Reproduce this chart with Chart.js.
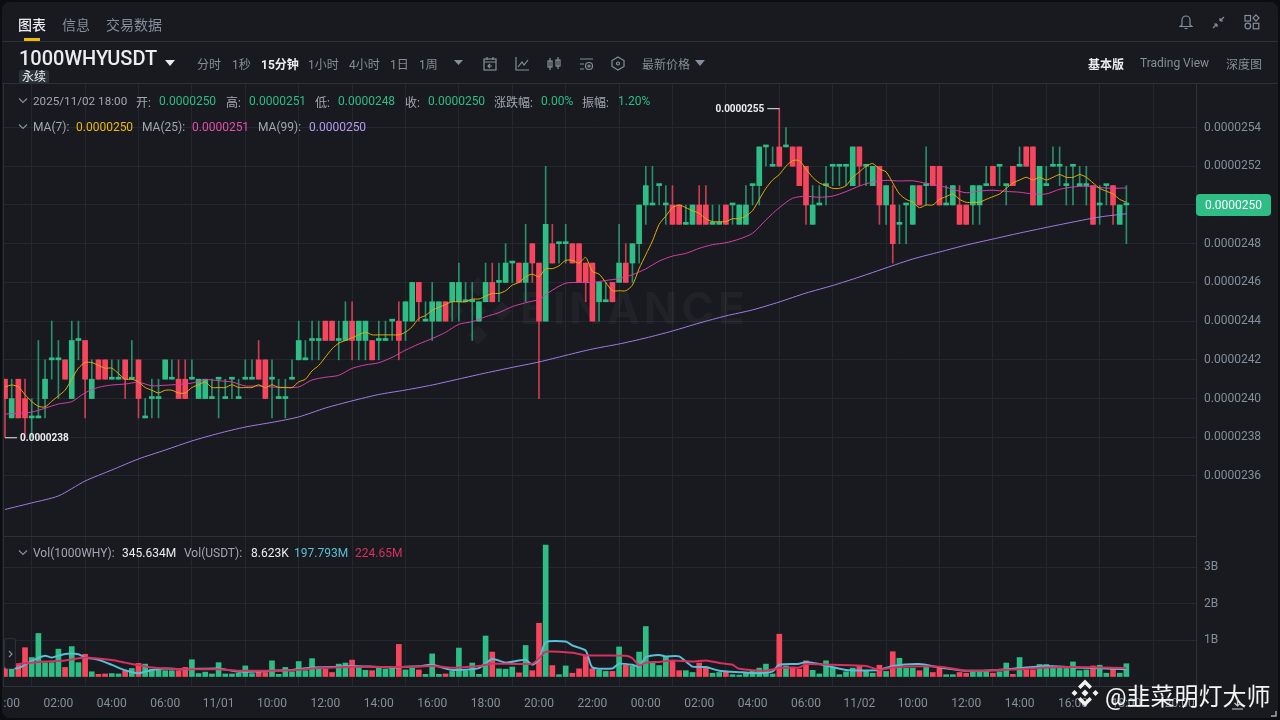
<!DOCTYPE html>
<html>

<head>
    <meta charset="utf-8">
    <title>1000WHYUSDT</title>
    <script src="https://cdn.jsdelivr.net/npm/chart.js@4/dist/chart.umd.min.js"></script>
    <style>
        html, body { margin: 0; height: 100%; background: #0b0e11; overflow: hidden; }
        #card { position: absolute; left: 2px; top: 2px; width: 1276px; height: 716px; background: #181a20; border-radius: 8px; }
        #myChart { position: absolute; left: 0; top: 0; clip-path: inset(0 0 0 3px); }
        #overlay { position: absolute; left: 0; top: 0; width: 1280px; height: 720px; pointer-events: none;
            font-family: Roboto, "Noto Sans CJK SC", sans-serif; }
        #overlay span { position: absolute; white-space: nowrap; transform: translateY(-50%); }
        #overlay svg { position: absolute; }
        .hline { position: absolute; height: 1px; background: #2b3139; }
    </style>
</head>

<body>
    <div id="card"></div>
    <canvas id="myChart" width="1280" height="720"></canvas>
    <div id="overlay"></div>
    <script>
        // prices are in units of 0.0000001
        const opens = [
            241, 239, 241, 240, 239, 239, 240, 242, 242, 242, 240, 243, 243, 240, 242, 242, 241, 241, 242, 241,
            242, 239, 240, 240, 241, 241, 241, 241, 241, 240, 240, 240, 241, 240, 241, 240, 241, 241, 242, 242,
            241, 240, 240, 241, 242, 242, 243, 243, 244, 244, 243, 243, 244, 243, 243, 243, 243, 243, 244, 244,
            244, 244, 246, 244, 244, 244, 245, 245, 245, 245, 245, 244, 245, 246, 246, 246, 247, 247, 246, 248,
            247, 244, 248, 248, 248, 248, 248, 247, 247, 245, 245, 246, 246, 247, 247, 248, 250, 250, 251, 250,
            250, 250, 249, 249, 250, 250, 249, 249, 250, 250, 249, 249, 251, 251, 253, 252, 253, 253, 253, 253,
            252, 249, 250, 251, 252, 252, 252, 251, 253, 252, 251, 252, 250, 250, 249, 250, 249, 251, 251, 252,
            252, 250, 250, 250, 250, 250, 250, 251, 252, 252, 251, 252, 252, 253, 253, 250, 251, 252, 252, 251,
            252, 251, 251, 251, 250, 251, 251, 249, 250
        ];
        const highs = [
            241, 241, 241, 241, 240, 243, 242, 244, 243, 242, 244, 244, 243, 242, 242, 242, 242, 242, 242, 243,
            242, 240, 241, 241, 242, 242, 242, 242, 242, 241, 241, 241, 241, 241, 241, 241, 242, 242, 243, 242,
            242, 241, 241, 242, 244, 243, 244, 244, 244, 244, 244, 245, 245, 244, 244, 243, 244, 244, 244, 245,
            245, 246, 246, 245, 246, 245, 245, 246, 247, 246, 246, 245, 247, 247, 247, 248, 247, 247, 249, 248,
            247, 252, 249, 248, 249, 248, 248, 247, 247, 246, 246, 246, 249, 248, 248, 250, 252, 252, 251, 251,
            251, 250, 250, 250, 251, 251, 250, 250, 250, 250, 250, 251, 251, 253, 253, 253, 255, 254, 253, 253,
            252, 251, 251, 252, 252, 252, 252, 253, 253, 252, 252, 252, 251, 251, 250, 250, 251, 251, 253, 252,
            252, 251, 251, 251, 250, 251, 251, 252, 252, 252, 251, 252, 253, 253, 253, 252, 252, 253, 253, 252,
            252, 252, 252, 251, 251, 251, 251, 250, 251
        ];
        const lows = [
            238, 239, 239, 238, 238, 239, 239, 241, 240, 241, 240, 242, 239, 240, 241, 241, 241, 241, 240, 241,
            239, 239, 239, 239, 241, 241, 240, 240, 241, 240, 240, 240, 239, 240, 240, 240, 241, 241, 241, 240,
            239, 240, 239, 241, 242, 242, 242, 242, 243, 243, 242, 243, 242, 242, 242, 242, 242, 243, 243, 242,
            243, 244, 244, 244, 243, 244, 244, 244, 244, 245, 243, 244, 245, 245, 245, 246, 246, 246, 245, 246,
            240, 244, 247, 247, 247, 247, 246, 245, 244, 244, 245, 245, 246, 246, 246, 247, 249, 250, 250, 249,
            249, 249, 249, 249, 249, 249, 249, 249, 249, 249, 249, 249, 250, 250, 252, 252, 252, 253, 252, 251,
            249, 249, 250, 250, 251, 251, 251, 251, 251, 251, 251, 249, 249, 247, 248, 248, 249, 250, 250, 251,
            250, 250, 250, 249, 249, 249, 249, 251, 251, 251, 250, 251, 252, 252, 250, 250, 251, 252, 251, 250,
            250, 251, 250, 249, 249, 250, 249, 249, 248
        ];
        const closes = [
            240, 240, 239, 239, 239, 239, 241, 242, 242, 241, 243, 243, 241, 241, 241, 241, 241, 241, 241, 241,
            240, 239, 240, 240, 242, 241, 240, 240, 241, 241, 241, 240, 241, 240, 241, 240, 241, 241, 241, 240,
            241, 240, 240, 241, 243, 242, 243, 243, 243, 243, 243, 244, 243, 244, 244, 242, 243, 243, 244, 243,
            245, 246, 245, 244, 245, 245, 244, 246, 246, 245, 245, 245, 246, 245, 246, 247, 247, 246, 247, 247,
            244, 249, 247, 248, 248, 247, 246, 246, 244, 246, 245, 245, 247, 246, 248, 250, 251, 250, 251, 250,
            249, 249, 249, 250, 249, 249, 249, 249, 249, 250, 250, 250, 251, 253, 253, 252, 252, 253, 252, 251,
            250, 250, 250, 251, 252, 252, 252, 253, 252, 252, 252, 250, 251, 248, 249, 250, 251, 250, 251, 251,
            250, 250, 251, 249, 249, 251, 251, 251, 251, 252, 251, 251, 252, 252, 250, 252, 251, 252, 252, 251,
            252, 251, 251, 249, 250, 251, 250, 250, 250
        ];
        // volume in billions
        const volumes = [
            0.66, 0.23, 0.34, 0.79, 0.52, 1.18, 0.38, 0.38, 0.75, 0.25, 0.82, 0.38, 0.61, 0.13, 0.06, 0.07, 0.08, 0.07, 0.16, 0.22,
            0.36, 0.34, 0.20, 0.18, 0.16, 0.16, 0.16, 0.25, 0.46, 0.08, 0.12, 0.07, 0.38, 0.07, 0.07, 0.09, 0.29, 0.08, 0.16, 0.11,
            0.43, 0.06, 0.25, 0.13, 0.41, 0.16, 0.49, 0.25, 0.20, 0.11, 0.34, 0.37, 0.45, 0.25, 0.17, 0.16, 0.26, 0.20, 0.25, 0.88,
            0.18, 0.23, 0.18, 0.06, 0.62, 0.06, 0.07, 0.14, 0.78, 0.16, 0.37, 0.06, 1.11, 0.67, 0.21, 0.20, 0.26, 0.10, 0.85, 0.16,
            1.46, 3.60, 0.30, 0.05, 0.29, 0.09, 0.21, 0.55, 0.21, 0.18, 0.14, 0.14, 0.81, 0.32, 0.29, 0.67, 1.37, 0.37, 0.30, 0.55,
            0.43, 0.16, 0.16, 0.11, 0.37, 0.23, 0.09, 0.11, 0.14, 0.05, 0.04, 0.09, 0.14, 0.23, 0.34, 0.07, 1.16, 0.29, 0.26, 0.20,
            0.43, 0.17, 0.07, 0.43, 0.25, 0.05, 0.13, 0.23, 0.29, 0.16, 0.09, 0.31, 0.14, 0.68, 0.50, 0.23, 0.23, 0.16, 0.25, 0.11,
            0.26, 0.05, 0.05, 0.11, 0.09, 0.16, 0.16, 0.14, 0.09, 0.13, 0.37, 0.06, 0.52, 0.18, 0.18, 0.33, 0.33, 0.23, 0.25, 0.22,
            0.40, 0.16, 0.18, 0.29, 0.31, 0.09, 0.22, 0.09, 0.35
        ];
        const ma7 = [
            240.6, 240.7, 240.6, 240.2, 239.85, 239.6, 239.57, 239.86, 240.14, 240.43, 241.0, 241.57, 241.86, 241.86, 241.71, 241.57, 241.57, 241.29, 241.0, 241.0,
            240.86, 240.57, 240.43, 240.29, 240.43, 240.43, 240.29, 240.29, 240.57, 240.71, 240.86, 240.57, 240.57, 240.57, 240.71, 240.57, 240.57, 240.57, 240.71, 240.57,
            240.71, 240.57, 240.57, 240.57, 240.86, 241.0, 241.43, 241.71, 242.14, 242.57, 242.86, 243.0, 243.14, 243.29, 243.43, 243.29, 243.29, 243.29, 243.29, 243.29,
            243.43, 243.71, 244.14, 244.29, 244.57, 244.71, 244.86, 245.0, 245.0, 245.0, 245.14, 245.14, 245.29, 245.43, 245.43, 245.57, 245.86, 246.0, 246.29, 246.43,
            246.29, 246.71, 246.71, 246.86, 247.14, 247.14, 247.0, 247.29, 246.57, 246.43, 246.0, 245.57, 245.57, 245.57, 245.86, 246.71, 247.43, 248.14, 249.0, 249.43,
            249.86, 250.0, 249.86, 249.71, 249.57, 249.29, 249.14, 249.14, 249.14, 249.29, 249.29, 249.43, 249.71, 250.29, 250.86, 251.29, 251.57, 252.0, 252.29, 252.29,
            251.86, 251.43, 251.14, 251.0, 250.86, 250.86, 251.0, 251.43, 251.71, 252.0, 252.14, 251.86, 251.71, 251.14, 250.57, 250.29, 250.14, 249.86, 250.0, 250.0,
            250.29, 250.43, 250.57, 250.29, 250.14, 250.14, 250.14, 250.29, 250.43, 250.57, 250.86, 251.14, 251.29, 251.43, 251.29, 251.43, 251.29, 251.43, 251.57, 251.43,
            251.43, 251.57, 251.43, 251.14, 250.86, 250.71, 250.57, 250.29, 250.14
        ];
        // read every 2nd candle
        const ma25 = [
            239.2, 239.24, 239.3, 239.5, 239.72, 239.84, 240.3, 240.58, 240.7, 240.75, 240.84, 240.66, 240.69, 240.73, 240.8, 240.98, 240.92, 240.86, 240.65, 240.65,
            240.6, 240.58, 240.6, 240.96, 241.1, 241.2, 241.56, 241.74, 241.85, 242.13, 242.5, 242.82, 243.1, 243.42, 243.84, 243.97, 244.23, 244.44, 244.75, 244.95,
            245.13, 245.6, 245.96, 246.0, 246.0, 246.1, 246.2, 246.4, 246.7, 247.1, 247.36, 247.5, 247.76, 247.95, 248.05, 248.24, 248.54, 249.23, 249.86, 250.35,
            250.45, 250.4, 250.46, 250.69, 250.98, 251.19, 251.27, 251.24, 251.25, 251.12, 251.0, 250.81, 250.63, 250.72, 250.76, 250.7, 250.66, 250.57, 250.57, 250.81,
            250.93, 250.97, 250.9, 250.86, 250.88
        ];
        // read every 4th candle
        const ma99 = [
            234.27, 234.61, 234.97, 235.74, 236.31, 236.88, 237.34, 237.81, 238.2, 238.53, 238.77, 239.05, 239.51, 239.88, 240.21, 240.44, 240.7, 241.01, 241.32, 241.61,
            241.89, 242.23, 242.56, 242.82, 243.13, 243.49, 243.9, 244.27, 244.58, 244.99, 245.45, 245.84, 246.28, 246.75, 247.21, 247.57, 247.93, 248.24, 248.55, 248.84,
            249.12, 249.38, 249.55
        ];
        const volMaBlueIdx = [
            0, 2, 4, 6, 7, 9, 11, 12, 14, 16, 18, 20, 22, 24, 27, 29, 32, 35, 38, 40, 43, 46, 49, 52, 56, 59,
            60, 62, 64, 67, 71, 73, 75, 78, 79, 80, 81, 84, 85, 87, 88, 91, 92, 94, 95, 96, 98, 99, 101, 103, 105, 107, 110, 113, 115, 116, 119,
            120, 122, 126, 131, 133, 137, 140, 144, 148, 152, 156, 160, 168
        ];
        const volMaBlue = [
            0.25, 0.23, 0.43, 0.57, 0.52, 0.62, 0.61, 0.52, 0.46, 0.32, 0.17, 0.09, 0.18, 0.22, 0.20, 0.21, 0.22, 0.13, 0.14, 0.16, 0.18, 0.25, 0.26, 0.29, 0.26, 0.25,
            0.27, 0.28, 0.32, 0.18, 0.23, 0.48, 0.38, 0.46, 0.32, 0.46, 0.94, 0.96, 0.85, 0.71, 0.25, 0.22, 0.35, 0.32, 0.27, 0.53, 0.59, 0.55, 0.55, 0.27, 0.26, 0.16, 0.12, 0.09, 0.14, 0.32, 0.35,
            0.40, 0.34, 0.18, 0.18, 0.29, 0.34, 0.25, 0.16, 0.17, 0.23, 0.29, 0.25, 0.20
        ];
        const volMaRedIdx = [
            0, 2, 4, 6, 9, 12, 16, 18, 20, 22, 24, 27, 32, 35, 40, 43, 46, 49, 52, 56, 59,
            60, 64, 67, 71, 73, 79, 80, 81, 85, 87, 93, 94, 95, 96, 98, 100, 103, 105, 107, 109, 110, 114, 116, 119,
            120, 124, 129, 131, 133, 140, 144, 148, 152, 156, 160, 168
        ];
        const volMaRed = [
            0.29, 0.34, 0.38, 0.41, 0.44, 0.52, 0.45, 0.38, 0.31, 0.25, 0.22, 0.20, 0.20, 0.16, 0.16, 0.17, 0.22, 0.25, 0.27, 0.26, 0.26,
            0.26, 0.29, 0.24, 0.29, 0.35, 0.35, 0.50, 0.68, 0.65, 0.58, 0.57, 0.50, 0.30, 0.38, 0.40, 0.44, 0.41, 0.44, 0.37, 0.32, 0.21, 0.16, 0.23, 0.25,
            0.34, 0.32, 0.29, 0.18, 0.25, 0.27, 0.16, 0.17, 0.20, 0.25, 0.26, 0.23
        ];
        const timeLabels = ['00:00', '02:00', '04:00', '06:00', '11/01', '10:00', '12:00', '14:00', '16:00', '18:00', '20:00', '22:00',
            '00:00', '02:00', '04:00', '06:00', '11/02', '10:00', '12:00', '14:00', '16:00', '18:00', '20:00'];
        const priceTicks = [236, 238, 240, 242, 244, 246, 248, 250, 252, 254];
        const volTicks = [1, 2, 3];

        const UP = '#2ebd85', DOWN = '#f6465d';
        const UP_WICK = 'rgba(46,189,133,0.72)', DOWN_WICK = 'rgba(246,70,93,0.8)';
        const candleColors = closes.map((c, i) => c >= opens[i] ? UP : DOWN);
        const wickColors = closes.map((c, i) => c >= opens[i] ? UP_WICK : DOWN_WICK);
        const priceLabel = v => '0.0000' + v;

        const gridColor = '#23272e';
        const axisColor = '#2b3139';
        const tickColor = '#848e9c';

        // watermark behind the candles, high/low marks and the last price tag on top
        const decorations = {
            id: 'decorations',
            beforeDatasetsDraw(chart) {
                const ctx = chart.ctx;
                ctx.save();
                ctx.fillStyle = 'rgba(255,255,255,0.035)';
                ctx.font = 'bold 44px Inter';
                ctx.letterSpacing = '4px';
                ctx.textBaseline = 'middle';
                ctx.fillText('BINANCE', 520, 311);
                ctx.letterSpacing = '0px';
                ctx.translate(478, 311);
                ctx.rotate(Math.PI / 4);
                ctx.fillRect(-6, -6, 12, 12);
                ctx.fillRect(-24, -24, 14, 14);
                ctx.fillRect(10, 10, 14, 14);
                ctx.fillRect(-24, 10, 14, 14);
                ctx.fillRect(10, -24, 14, 14);
                ctx.restore();
            },
            afterDraw(chart) {
                const ctx = chart.ctx, x = chart.scales.x, y = chart.scales.y;
                const lastClose = closes[closes.length - 1];
                const hi = Math.max(...highs), lo = Math.min(...lows);
                ctx.save();
                ctx.font = 'bold 10px Roboto';
                ctx.fillStyle = '#eaecef';
                ctx.strokeStyle = '#eaecef';
                ctx.textBaseline = 'middle';
                const hiX = x.getPixelForValue(highs.indexOf(hi));
                const hiY = y.getPixelForValue(hi);
                ctx.textAlign = 'right';
                ctx.fillText(priceLabel(hi), hiX - 15, hiY + 1);
                ctx.beginPath(); ctx.moveTo(hiX - 12, hiY + 0.5); ctx.lineTo(hiX, hiY + 0.5); ctx.stroke();
                const loX = x.getPixelForValue(lows.indexOf(lo));
                const loY = y.getPixelForValue(lo);
                ctx.textAlign = 'left';
                ctx.fillText(priceLabel(lo), loX + 15, loY + 1);
                ctx.beginPath(); ctx.moveTo(loX, loY + 0.5); ctx.lineTo(loX + 12, loY + 0.5); ctx.stroke();

                const tagY = y.getPixelForValue(lastClose);
                ctx.fillStyle = UP;
                ctx.beginPath();
                ctx.roundRect(1196, tagY - 11, 75, 22, 4);
                ctx.fill();
                ctx.fillStyle = '#ffffff';
                ctx.font = '12px Roboto';
                ctx.textAlign = 'center';
                ctx.fillText(priceLabel(lastClose), 1233.5, tagY + 1);
                ctx.restore();
            }
        };

        const fixYWidth = scale => { scale.width = 84; };

        const config = {
            type: 'bar',
            data: {
                datasets: [
                    { type: 'line', data: ma7.map((v, i) => ({ x: i, y: v })), borderColor: '#e5ac0a', borderWidth: 1, pointRadius: 0, tension: 0.25, yAxisID: 'y', order: 0 },
                    { type: 'line', data: ma25.map((v, i) => ({ x: i * 2, y: v })), borderColor: '#d63fa6', borderWidth: 1, pointRadius: 0, tension: 0.25, yAxisID: 'y', order: 0 },
                    { type: 'line', data: ma99.map((v, i) => ({ x: i * 4, y: v })), borderColor: '#a57be4', borderWidth: 1, pointRadius: 0, tension: 0.25, yAxisID: 'y', order: 0 },
                    { type: 'line', data: volMaRed.map((v, i) => ({ x: volMaRedIdx[i], y: v })), borderColor: '#d8305f', borderWidth: 2, pointRadius: 0, tension: 0.2, yAxisID: 'yVol', order: 0 },
                    { type: 'line', data: volMaBlue.map((v, i) => ({ x: volMaBlueIdx[i], y: v })), borderColor: '#58bfd6', borderWidth: 2, pointRadius: 0, tension: 0.2, yAxisID: 'yVol', order: 0 },
                    // body
                    { data: opens.map((o, i) => ({ x: i, y: [o, closes[i]] })), backgroundColor: candleColors, barThickness: 5, minBarLength: 2, grouped: false, yAxisID: 'y', order: 1 },
                    // wick
                    { data: highs.map((h, i) => ({ x: i, y: [lows[i], h] })), backgroundColor: wickColors, barThickness: 1, grouped: false, yAxisID: 'y', order: 2 },
                    // volume
                    { data: volumes.map((v, i) => ({ x: i, y: v })), backgroundColor: candleColors, barThickness: 5, grouped: false, yAxisID: 'yVol', order: 1 }
                ]
            },
            options: {
                responsive: false,
                animation: false,
                layout: { padding: { left: 3, top: 84, right: 0, bottom: 0 } },
                plugins: { legend: { display: false }, tooltip: { enabled: false } },
                scales: {
                    x: {
                        type: 'linear',
                        min: -0.3,
                        max: 178.43,
                        offset: false,
                        afterBuildTicks(scale) { scale.ticks = timeLabels.map((t, k) => ({ value: k * 8 })); },
                        afterFit(scale) { scale.paddingLeft = 0; scale.paddingRight = 0; scale.height = 34; },
                        ticks: {
                            callback: v => timeLabels[v / 8],
                            autoSkip: false, maxRotation: 0, color: tickColor, padding: 11,
                            font: { family: 'Roboto', size: 12 }
                        },
                        grid: { color: gridColor, drawTicks: false },
                        border: { color: axisColor }
                    },
                    y: {
                        position: 'right',
                        stack: 'panes',
                        stackWeight: 452,
                        min: 232.9,
                        max: 256.25,
                        afterBuildTicks(scale) { scale.ticks = priceTicks.map(v => ({ value: v })); },
                        afterFit: fixYWidth,
                        ticks: { callback: priceLabel, color: tickColor, padding: 8, font: { family: 'Roboto', size: 12 } },
                        grid: { color: gridColor, drawTicks: false },
                        border: { color: axisColor }
                    },
                    yVol: {
                        position: 'right',
                        stack: 'panes',
                        stackWeight: 150,
                        min: -0.26,
                        max: 3.85,
                        afterBuildTicks(scale) { scale.ticks = volTicks.map(v => ({ value: v })); },
                        afterFit: fixYWidth,
                        ticks: { callback: v => v + 'B', color: tickColor, padding: 8, font: { family: 'Roboto', size: 12 } },
                        grid: { color: gridColor, drawTicks: false },
                        border: { color: axisColor }
                    }
                }
            },
            plugins: [decorations]
        };

        new Chart(document.getElementById('myChart'), config);

        // page furniture around the chart
        const overlay = document.getElementById('overlay');
        function addText(x, y, text, color, size, weight) {
            const s = document.createElement('span');
            s.textContent = text;
            s.style.left = x + 'px';
            s.style.top = y + 'px';
            s.style.color = color;
            s.style.fontSize = (size || 12) + 'px';
            if (weight) s.style.fontWeight = weight;
            overlay.appendChild(s);
            return s;
        }
        function addLine(x, y, w, color) {
            const d = document.createElement('div');
            d.className = 'hline';
            d.style.left = x + 'px';
            d.style.top = y + 'px';
            d.style.width = w + 'px';
            if (color) d.style.background = color;
            overlay.appendChild(d);
            return d;
        }
        function addSvg(x, y, w, h, body) {
            overlay.insertAdjacentHTML('beforeend',
                `<svg style="left:${x}px;top:${y}px" width="${w}" height="${h}" viewBox="0 0 ${w} ${h}" fill="none" stroke="#848e9c" stroke-width="1.2">${body}</svg>`);
        }
        const GREY = '#848e9c', LEGEND = '#a1a7b1', GREEN = '#2ebd85';

        addLine(2, 41, 1276);
        addLine(2, 83, 1276);
        addLine(3, 536, 1193);
        const leftEdge = addLine(3, 84, 1);
        leftEdge.style.height = '602px';
        addLine(24, 38, 16, '#f0b90b').style.height = '3px';

        addText(18, 24, '图表', '#eaecef', 14, 500);
        addText(62, 24, '信息', GREY, 14);
        addText(106, 24, '交易数据', GREY, 14);

        addText(19, 58, '1000WHYUSDT', '#eaecef', 20, 500);
        addSvg(165, 60, 10, 7, '<path d="M0 0H10L5 6Z" fill="#eaecef" stroke="none"/>');
        const badge = addText(19, 77, '永续', '#eaecef', 12);
        badge.style.background = '#2b3139';
        badge.style.padding = '0 3px';
        badge.style.borderRadius = '2px';
        badge.style.lineHeight = '14px';

        addText(197, 63, '分时', GREY);
        addText(232, 63, '1秒', GREY);
        addText(261, 63, '15分钟', '#eaecef', 12, 700);
        addText(308, 63, '1小时', GREY);
        addText(349, 63, '4小时', GREY);
        addText(390, 63, '1日', GREY);
        addText(419, 63, '1周', GREY);
        addSvg(454, 60, 9, 6, '<path d="M0 0H9L4.5 5Z" fill="#848e9c" stroke="none"/>');
        addSvg(483, 56, 14, 15, '<rect x="1" y="3" width="12" height="11"/><path d="M1 6H13M4 1V4M10 1V4M9 10H5M7 8L5 10L7 12"/>');
        addSvg(515, 56, 14, 15, '<path d="M1 1V14H14M3 11L7 6L9 9L13 4"/>');
        addSvg(547, 56, 14, 15, '<rect x="1" y="5" width="4" height="6"/><rect x="9" y="4" width="4" height="6"/><path d="M3 2V14M11 1V13"/>');
        addSvg(579, 56, 15, 15, '<path d="M1 3H14M1 8H5M1 13H5"/><circle cx="10" cy="10" r="3.5"/><circle cx="10" cy="10" r="1"/>');
        addSvg(611, 56, 14, 15, '<path d="M7 1L13 4.5V10.5L7 14L1 10.5V4.5Z"/><circle cx="7" cy="7.5" r="1.5"/>');
        addText(642, 63, '最新价格', GREY);
        addSvg(695, 60, 10, 6, '<path d="M0 0H10L5 6Z" fill="#848e9c" stroke="none"/>');
        addText(1088, 63, '基本版', '#eaecef', 12, 700);
        addText(1140, 63, 'Trading View', GREY);
        addText(1226, 63, '深度图', GREY);

        addSvg(1179, 14, 14, 16, '<path d="M3 11V6A4 4 0 0 1 11 6V11L13 12.5H1ZM5.5 14.5H8.5"/>');
        addSvg(1211, 15, 15, 15, '<path d="M9 6L13 2M9 6V3M9 6H12M6 9L2 13M6 9V12M6 9H3"/>');
        addSvg(1244, 14, 16, 16, '<rect x="1" y="1.5" width="5.5" height="5.5"/><path d="M12 0.8L15 4L12 7.2L9 4Z"/><circle cx="3.8" cy="12" r="2.8"/><rect x="9.3" y="9.3" width="5.5" height="5.5"/>');

        const chevron = (x, y) => addSvg(x, y, 10, 6, '<path d="M1 0.5L5 4.5L9 0.5"/>');
        chevron(18, 98);
        addText(33, 101, '2025/11/02 18:00', LEGEND, 11.7);
        addText(136, 101, '开:', LEGEND);
        addText(159, 101, '0.0000250', GREEN);
        addText(226, 101, '高:', LEGEND);
        addText(249, 101, '0.0000251', GREEN);
        addText(315, 101, '低:', LEGEND);
        addText(338, 101, '0.0000248', GREEN);
        addText(405, 101, '收:', LEGEND);
        addText(428, 101, '0.0000250', GREEN);
        addText(494, 101, '涨跌幅:', LEGEND);
        addText(541, 101, '0.00%', GREEN);
        addText(582, 101, '振幅:', LEGEND);
        addText(618, 101, '1.20%', GREEN);

        chevron(18, 124);
        addText(33, 127, 'MA(7):', LEGEND);
        addText(76, 127, '0.0000250', '#f0b90b');
        addText(142, 127, 'MA(25):', LEGEND);
        addText(192, 127, '0.0000251', '#e84caf');
        addText(258, 127, 'MA(99):', LEGEND);
        addText(309, 127, '0.0000250', '#b79af0');

        chevron(18, 550);
        addText(33, 553, 'Vol(1000WHY):', LEGEND);
        addText(122, 553, '345.634M', '#eaecef');
        addText(184, 553, 'Vol(USDT):', LEGEND);
        addText(251, 553, '8.623K', '#eaecef');
        addText(294, 553, '197.793M', '#58bfd6');
        addText(355, 553, '224.65M', '#d8305f');

        // collapse handle on the left edge
        addSvg(4, 638, 12, 31, '<rect x="0.5" y="0.5" width="11" height="30" rx="3" stroke="#2b3139" fill="#181a20"/><path d="M5 13L8 16L5 19"/>');

        // repost watermark
        overlay.insertAdjacentHTML('beforeend',
            '<svg style="left:1071px;top:679px" width="28" height="28" viewBox="-14 -14 28 28" fill="#f2f2f2"><path d="M0 -13.5L7 -6.5L4.5 -4L0 -8.5L-4.5 -4L-7 -6.5Z"/><path d="M0 13.5L7 6.5L4.5 4L0 8.5L-4.5 4L-7 6.5Z"/><path d="M-13.5 0L-10.5 -3L-7.5 0L-10.5 3Z"/><path d="M13.5 0L10.5 -3L7.5 0L10.5 3Z"/><path d="M0 -3.5L3.5 0L0 3.5L-3.5 0Z"/></svg>');
        addText(1105, 694, '@韭菜明灯大师', '#f5f5f5', 24);
        addSvg(1230, 698, 15, 12, '<path d="M7.5 0V8M4.5 5L7.5 8L10.5 5M2 11H13" stroke="#c8ccd2"/>');
        addSvg(1270, 710, 7, 7, '<path d="M6 1V6H1" stroke="#a1a7b1" stroke-width="1.5"/>');
    </script>


</body>


</html>
